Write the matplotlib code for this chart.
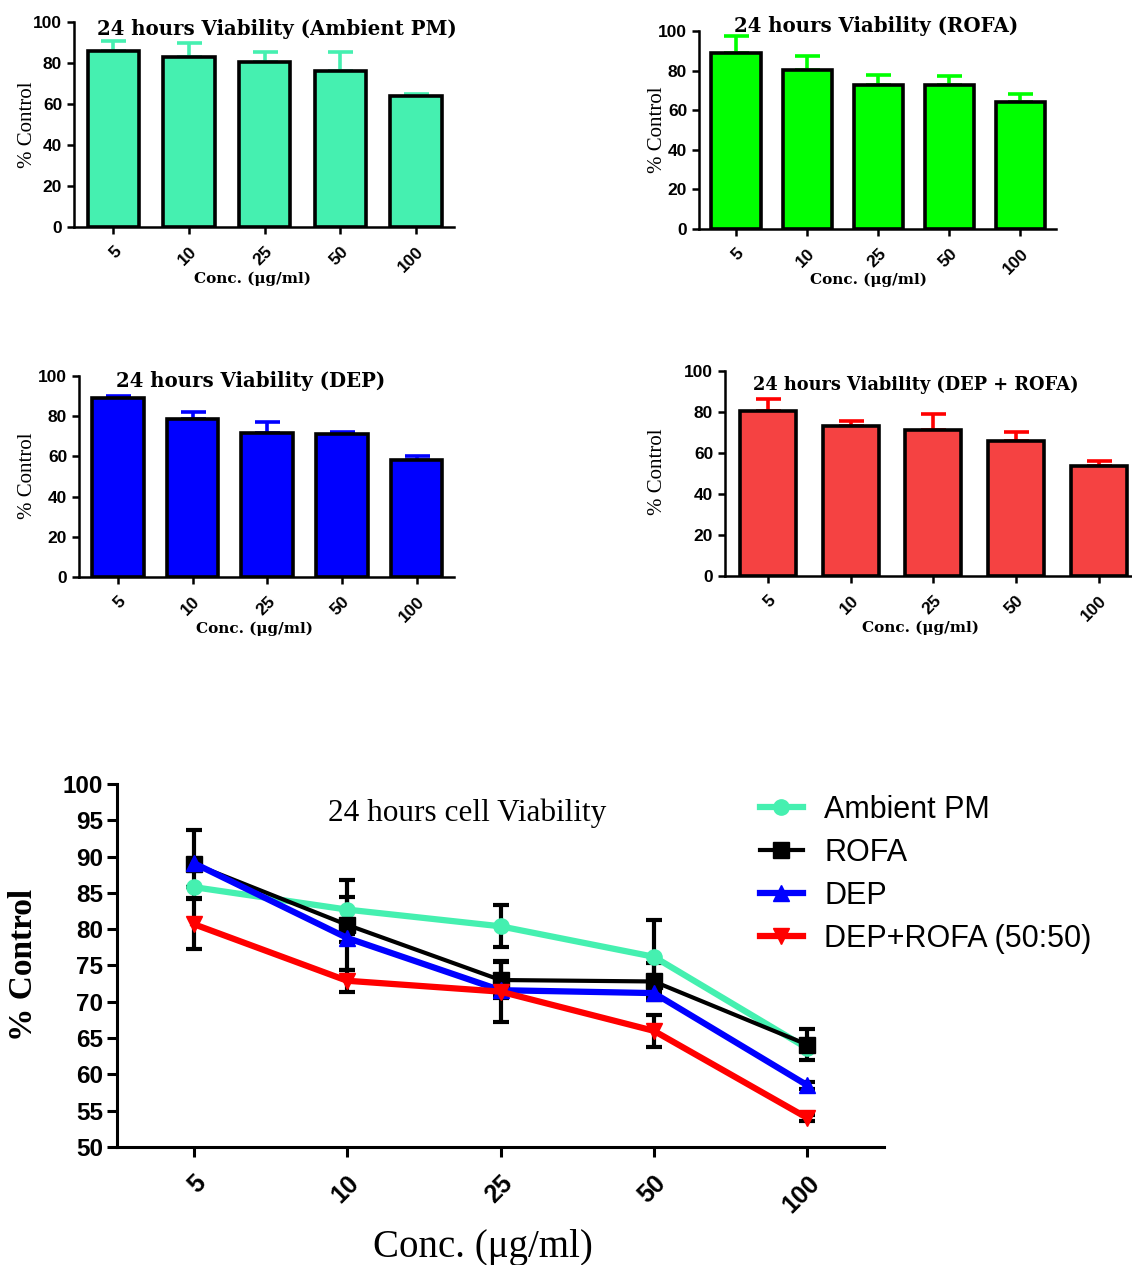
import matplotlib
matplotlib.use("Agg")
import matplotlib.pyplot as plt
import numpy as np

# ---------------- data ----------------
conc_labels = ["5", "10", "25", "50", "100"]

# bar charts (mean, upper error)
ambient_bar = [85.8, 82.9, 80.6, 76.3, 63.7]
ambient_bar_err = [4.7, 6.9, 5.0, 8.9, 1.1]
rofa_bar = [89.1, 80.5, 72.8, 72.5, 64.0]
rofa_bar_err = [8.2, 6.7, 5.0, 4.6, 4.1]
dep_bar = [89.1, 78.7, 71.4, 71.2, 58.4]
dep_bar_err = [1.0, 3.2, 5.8, 1.0, 1.7]
deprofa_bar = [80.5, 73.0, 71.4, 66.0, 53.9]
deprofa_bar_err = [6.0, 2.8, 7.8, 4.1, 2.0]

# line chart (mean, symmetric error)
ambient_line = [85.8, 82.7, 80.4, 76.2, 63.6]
ambient_line_err = [0.0, 1.7, 2.9, 5.0, 0.4]
rofa_line = [89.0, 80.6, 73.0, 72.8, 64.1]
rofa_line_err = [4.7, 6.2, 2.5, 2.5, 2.1]
dep_line = [89.1, 78.8, 71.6, 71.2, 58.5]
dep_line_err = [0.6, 0.6, 0.5, 0.4, 0.5]
deprofa_line = [80.7, 72.9, 71.4, 66.0, 54.0]
deprofa_line_err = [3.4, 1.5, 4.2, 2.2, 0.4]

series_names = ["Ambient PM", "ROFA", "DEP", "DEP+ROFA (50:50)"]

# ---------------- figure ----------------
W, H = 1132, 1265
fig = plt.figure(figsize=(W / 100, H / 100), dpi=100)
SERIF = ["Liberation Serif", "DejaVu Serif"]
WIDE_SERIF = ["DejaVu Serif"]
SANS = ["Liberation Sans", "DejaVu Sans"]


def px_axes(x0, y0, x1, y1):
    return fig.add_axes([x0 / W, 1 - y1 / H, (x1 - x0) / W, (y1 - y0) / H])


def ftext(x, y, s, **kw):
    fig.text(x / W, 1 - y / H, s, **kw)


def bar_panel(box, vals, errs, fill, ecol, title, title_xy, title_fs,
              xlab_xy, ylab_xy, width):
    ax = px_axes(*box)
    x = np.arange(len(conc_labels))
    ax.bar(x, vals, width=width, color=fill, edgecolor="black", linewidth=2.6, zorder=3)
    ax.errorbar(x, vals, yerr=[np.zeros(len(vals)), errs], fmt="none",
                ecolor=ecol, elinewidth=2.6, capsize=9, capthick=2.6, zorder=2)
    ax.set_xlim(-0.52, 4.5)
    ax.set_ylim(0, 100)
    ax.set_yticks([0, 20, 40, 60, 80, 100])
    ax.set_xticks(x)
    ax.set_xticklabels(conc_labels, rotation=45, ha="right", va="top",
                       rotation_mode="anchor")
    for sp in ["top", "right"]:
        ax.spines[sp].set_visible(False)
    for sp in ["left", "bottom"]:
        ax.spines[sp].set_linewidth(1.8)
    ax.tick_params(axis="both", direction="out", length=5, width=1.8,
                   labelsize=12.5)
    for lab in ax.get_xticklabels() + ax.get_yticklabels():
        lab.set_fontfamily(SANS)
        lab.set_fontweight("bold")
    ax.tick_params(axis="x", pad=7)
    ftext(*title_xy, title, ha="center", va="center", fontsize=title_fs,
          fontweight="bold", family=WIDE_SERIF)
    ftext(*xlab_xy, "Conc. (\u03bcg/ml)", ha="center", va="center", fontsize=11,
          fontweight="bold", family=WIDE_SERIF)
    ftext(*ylab_xy, "% Control", ha="center", va="center", fontsize=15,
          rotation=90, family=SERIF)
    return ax


bar_panel((74, 22, 454, 227), ambient_bar, ambient_bar_err, "#45F0B0", "#45F0B0",
          "24 hours Viability (Ambient PM)", (277, 29), 14.2, (252, 279), (27, 125), 0.68)
bar_panel((699, 31, 1056, 229), rofa_bar, rofa_bar_err, "#00FF00", "#00FF00",
          "24 hours Viability (ROFA)", (876, 26), 14.2, (868, 280), (657, 130), 0.69)
bar_panel((79, 376, 454, 577), dep_bar, dep_bar_err, "#0000FF", "#0000FF",
          "24 hours Viability (DEP)", (251, 381), 14.2, (254, 629), (27, 476), 0.69)
bar_panel((725, 371, 1140, 576), deprofa_bar, deprofa_bar_err, "#F54242", "#FF0000",
          "24 hours Viability (DEP + ROFA)", (916, 385), 12.8, (920, 628), (658, 472), 0.68)

# ---------------- line chart ----------------
ax = px_axes(117, 784, 884, 1147)
x = np.arange(len(conc_labels))
line_specs = [
    (ambient_line, ambient_line_err, "#45F0B0", "o", 4.5),
    (rofa_line, rofa_line_err, "black", "s", 3.0),
    (dep_line, dep_line_err, "#0000FF", "^", 4.5),
    (deprofa_line, deprofa_line_err, "#FF0000", "v", 4.5),
]
for vals, errs, col, mk, lw in line_specs:
    ax.errorbar(x, vals, yerr=errs, fmt="none", ecolor="black", elinewidth=3,
                capsize=6, capthick=3, zorder=2)
handles = []
for (vals, errs, col, mk, lw), name in zip(line_specs, series_names):
    h, = ax.plot(x, vals, color=col, marker=mk, markersize=11, linewidth=lw,
                 label=name, zorder=3)
    handles.append(h)

ax.set_xlim(-0.5, 4.5)
ax.set_ylim(50, 100)
ax.set_yticks(np.arange(50, 101, 5))
ax.set_xticks(x)
ax.set_xticklabels(conc_labels, rotation=45, ha="right", va="top",
                   rotation_mode="anchor")
for sp in ["top", "right"]:
    ax.spines[sp].set_visible(False)
for sp in ["left", "bottom"]:
    ax.spines[sp].set_linewidth(2.2)
ax.tick_params(axis="both", direction="out", length=7, width=2.2, labelsize=17.5)
ax.tick_params(axis="x", pad=10, labelsize=18)
ax.tick_params(axis="y", pad=3)
for lab in ax.get_xticklabels() + ax.get_yticklabels():
    lab.set_fontfamily(SANS)
    lab.set_fontweight("bold")

ftext(467, 813, "24 hours cell Viability", ha="center", va="center",
      fontsize=22.5, family=SERIF)
ftext(483, 1247, "Conc. (\u03bcg/ml)", ha="center", va="center", fontsize=28,
      family=SERIF)
ftext(24, 965, "% Control", ha="center", va="center", fontsize=24,
      fontweight="bold", rotation=90, family=SERIF)

leg = ax.legend(handles=handles, loc="upper left",
                bbox_to_anchor=(760 / W, 1 - 795 / H), bbox_transform=fig.transFigure,
                frameon=False, prop={"family": SANS, "size": 22},
                handlelength=1.4, handletextpad=0.7, labelspacing=0.42,
                borderaxespad=0, borderpad=0)

fig.savefig("out.png", dpi=100)
